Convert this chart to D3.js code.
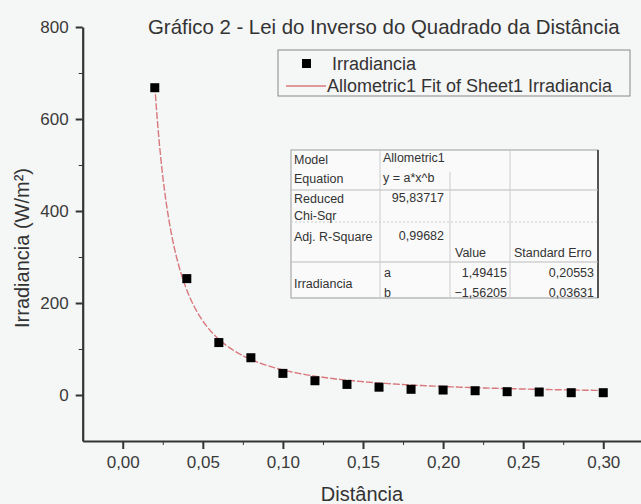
<!DOCTYPE html>
<html lang="pt">
<head>
<meta charset="utf-8">
<script src="https://d3js.org/d3.v7.min.js"></script>
<style>
  body { margin: 0; background: #f5f6f6; }
  svg { display: block; font-family: "Liberation Sans", Arial, sans-serif; }
  .axis path, .axis line { stroke: #333; }
  .axis text { fill: #3a3a3a; font-size: 17px; }
  .fit { fill: none; stroke: #d9787c; stroke-width: 1.4px; stroke-dasharray: 7,2; }
  .tbl text { font-size: 12.5px; fill: #333; }
</style>
</head>
<body>
<svg id="chart" width="641" height="504"></svg>
<script>
// measured points
let distancia   = [0.02, 0.04, 0.06, 0.08, 0.10, 0.12, 0.14, 0.16, 0.18, 0.20, 0.22, 0.24, 0.26, 0.28, 0.30]
let irradiancia = [668, 253, 114, 81, 47, 31, 23, 17, 12.4, 10.8, 9.3, 7.2, 6.5, 5, 5]

// allometric fit y = a*x^b (values from the table in the chart)
let fitModel = "Allometric1"
let fitEquation = "y = a*x^b"
let chiSqr = "95,83717"
let adjR2 = "0,99682"
let paramNames = ["a", "b"]
let paramValues = [1.49415, -1.56205]
let paramErrors = [0.20553, 0.03631]

let xTicks = [0, 0.05, 0.10, 0.15, 0.20, 0.25, 0.30]
let xMinor = [0.025, 0.075, 0.125, 0.175, 0.225, 0.275]
let yTicks = [0, 200, 400, 600, 800]
let yMinor = [100, 300, 500, 700]

let svg = d3.select("#chart")
let x = d3.scaleLinear().domain([-0.025, 0.325]).range([82.7, 643.3])
let y = d3.scaleLinear().domain([-100, 800]).range([441, 27])

let pt = d3.formatLocale({decimal: ",", thousands: ".", grouping: [3], currency: ["", ""]})
let fmt2 = pt.format(".2f")
let fmt5 = pt.format(".5f")

// axes
svg.append("g").attr("class", "axis").attr("transform", "translate(0,441)")
  .call(d3.axisBottom(x).tickValues(xMinor).tickSize(4).tickSizeOuter(0).tickFormat(""))
  .call(g => g.select(".domain").remove())
svg.append("g").attr("class", "axis").attr("transform", "translate(0,441)")
  .call(d3.axisBottom(x).tickValues(xTicks).tickSize(8).tickPadding(7).tickSizeOuter(0).tickFormat(fmt2))
  .call(g => g.select(".domain").attr("stroke-width", 2.2))
  .call(g => g.selectAll(".tick line").attr("stroke-width", 2))

svg.append("g").attr("class", "axis").attr("transform", "translate(82.7,0)")
  .call(d3.axisLeft(y).tickValues(yMinor).tickSize(4).tickSizeOuter(0).tickFormat(""))
  .call(g => g.select(".domain").remove())
svg.append("g").attr("class", "axis").attr("transform", "translate(82.7,0)")
  .call(d3.axisLeft(y).tickValues(yTicks).tickSize(7).tickPadding(7).tickSizeOuter(0))
  .call(g => g.select(".domain").attr("stroke-width", 2.2))
  .call(g => g.selectAll(".tick line").attr("stroke-width", 2))

// titles
svg.append("text").attr("x", 148).attr("y", 34).attr("font-size", 20.4).attr("fill", "#333")
  .text("Gráfico 2 - Lei do Inverso do Quadrado da Distância")
svg.append("text").attr("x", 362).attr("y", 501).attr("text-anchor", "middle")
  .attr("font-size", 20).attr("fill", "#333").text("Distância")
svg.append("text").attr("transform", "translate(29,248) rotate(-90)").attr("text-anchor", "middle")
  .attr("font-size", 20).attr("fill", "#333").text("Irradiancia (W/m²)")

// fit curve
let fitX = d3.range(0.02, 0.3001, 0.001)
let line = d3.line().x(d => x(d)).y(d => y(paramValues[0] * Math.pow(d, paramValues[1])))
svg.append("path").attr("class", "fit").attr("d", line(fitX))

// data squares
svg.selectAll(".pt").data(distancia).enter().append("rect").attr("class", "pt")
  .attr("x", d => x(d) - 4.5).attr("y", (d, i) => y(irradiancia[i]) - 4.5)
  .attr("width", 9).attr("height", 9).attr("fill", "#000")

// legend
let leg = svg.append("g")
leg.append("rect").attr("x", 278).attr("y", 50).attr("width", 352).attr("height", 46)
  .attr("fill", "none").attr("stroke", "#888").attr("stroke-width", 1)
leg.append("rect").attr("x", 302).attr("y", 59).attr("width", 9).attr("height", 9).attr("fill", "#000")
leg.append("text").attr("x", 332).attr("y", 70).attr("font-size", 18).attr("fill", "#333").text("Irradiancia")
leg.append("line").attr("x1", 286).attr("x2", 326).attr("y1", 86).attr("y2", 86)
  .attr("stroke", "#d9787c").attr("stroke-width", 1.3)
leg.append("text").attr("x", 327).attr("y", 92).attr("font-size", 18).attr("fill", "#333")
  .text("Allometric1 Fit of Sheet1 Irradiancia")

// stats table
let tbl = svg.append("g").attr("class", "tbl")
tbl.append("rect").attr("x", 291).attr("y", 150).attr("width", 307).attr("height", 148)
  .attr("fill", "#fafafa").attr("stroke", "#999")
tbl.append("line").attr("x1", 598).attr("x2", 598).attr("y1", 150).attr("y2", 298).attr("stroke", "#555").attr("stroke-width", 2)
let hl = [[291, 598, 190], [291, 598, 262]]
hl.forEach(l => tbl.append("line").attr("x1", l[0]).attr("x2", l[1]).attr("y1", l[2]).attr("y2", l[2]).attr("stroke", "#bbb"))
tbl.append("line").attr("x1", 291).attr("x2", 598).attr("y1", 222).attr("y2", 222).attr("stroke", "#ccc").attr("stroke-dasharray", "2,2")
let vl = [[380, 150, 298], [450, 172, 298], [510, 150, 298]]
vl.forEach(l => tbl.append("line").attr("x1", l[0]).attr("x2", l[0]).attr("y1", l[1]).attr("y2", l[2]).attr("stroke", "#ccc"))

let cell = (tx, ty, s, anchor) => tbl.append("text").attr("x", tx).attr("y", ty)
  .attr("text-anchor", anchor || "start").text(s)
cell(294, 164, "Model")
cell(383, 162, fitModel)
cell(294, 183, "Equation")
cell(383, 182, fitEquation)
cell(294, 203, "Reduced")
cell(294, 220, "Chi-Sqr")
cell(444, 202, chiSqr, "end")
cell(294, 241, "Adj. R-Square")
cell(444, 240, adjR2, "end")
cell(455, 257, "Value")
cell(514, 257, "Standard Erro")
cell(294, 288, "Irradiancia")
paramNames.forEach((p, i) => {
  let ty = 277 + i * 20
  cell(384, ty, p)
  cell(507, ty, fmt5(paramValues[i]).replace("-", "\u2212"), "end")
  cell(594, ty, fmt5(paramErrors[i]), "end")
})
</script>
</body>
</html>
